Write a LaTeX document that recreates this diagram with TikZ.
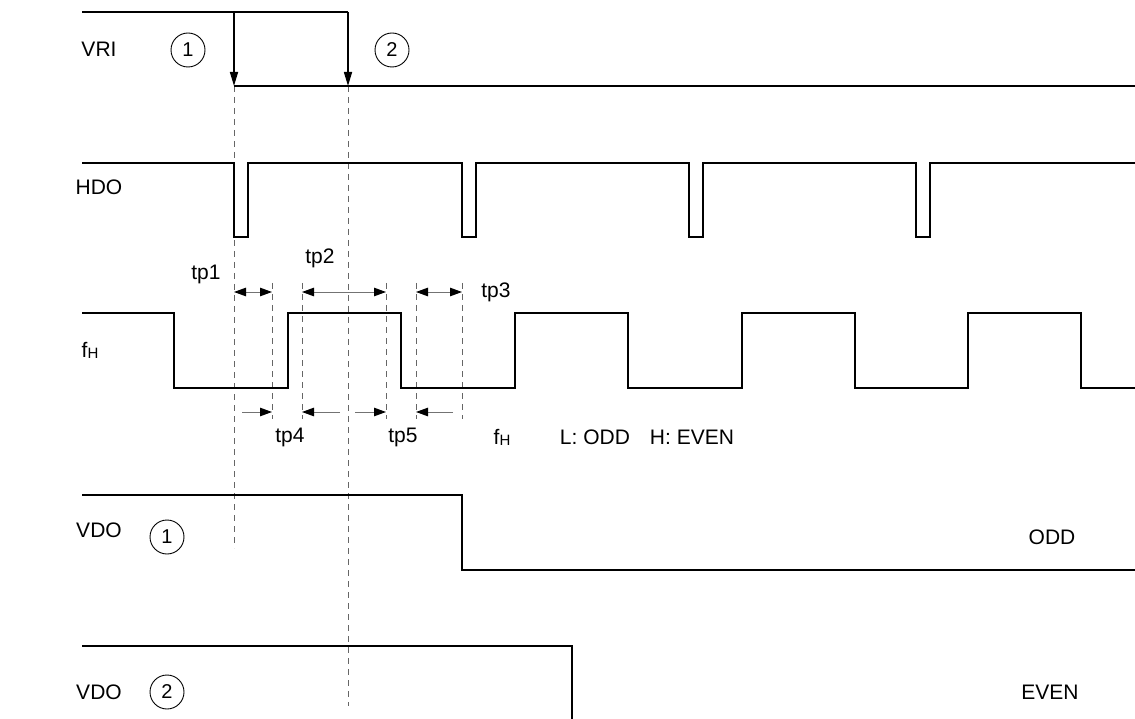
\documentclass[tikz,border=0pt]{standalone}
\usepackage{fontspec}
\setmainfont{Liberation Sans}
\usetikzlibrary{arrows.meta}
\newcommand{\fHtxt}{f{\fontsize{15}{15}\selectfont\raisebox{-1pt}{H}}}
\begin{document}
\begin{tikzpicture}[x=1pt,y=-1pt,
  sig/.style={line width=1.6pt, line join=miter},
  guide/.style={black!60, line width=0.8pt, dash pattern=on 6pt off 5pt},
  dimline/.style={black!55, line width=0.9pt},
  lbl/.style={font=\fontsize{21}{25}\selectfont, inner sep=0pt},
  num/.style={circle, draw, line width=0.9pt, minimum size=34pt, inner sep=0pt, font=\fontsize{20}{22}\selectfont},
  tipA/.style={-{Triangle[length=14pt,width=8pt]}},
  tipB/.style={{Triangle[length=12pt,width=8.5pt,color=black]}-{Triangle[length=12pt,width=8.5pt,color=black]}},
  tipC/.style={-{Triangle[length=12pt,width=8.5pt,color=black]}}
]
\useasboundingbox (0,0) rectangle (1135,719);

% left labels
\node[lbl] (lVRI) at (99,49) {VRI};
\node[lbl] (lHDO) at (99,187) {HDO};
\node[lbl] (lfH) at (90,350) {\fHtxt};
\node[lbl] (lVDO1) at (99,530) {VDO};
\node[lbl] (lVDO2) at (99,692) {VDO};

% circles
\node[num] (ca) at (188,50) {1};
\node[num] (cb) at (392,50) {2};
\node[num] (cc) at (167,537) {1};
\node[num] (cd) at (167,692) {2};

% guides
\coordinate (g1t) at (234,86);  \coordinate (g1b) at (234,548);
\coordinate (g2t) at (348,86);  \coordinate (g2b) at (348,706);
\draw[guide] (g1t) -- (g1b);
\draw[guide] (g2t) -- (g2b);
\foreach \xx/\nm in {272/a,302/b,386/c,416/d,462/e}{
  \coordinate (s\nm t) at (\xx,283);
  \coordinate (s\nm b) at (\xx,419);
  \draw[guide] (s\nm t) -- (s\nm b);
}

% VRI
\draw[sig] (82,12) -- (348,12);
\draw[sig] (234,86) -- (1135,86);
\coordinate (a1t) at (234,12); \coordinate (a1b) at (234,86);
\coordinate (a2t) at (348,12); \coordinate (a2b) at (348,86);
\draw[sig,tipA] (a1t) -- (a1b);
\draw[sig,tipA] (a2t) -- (a2b);

% HDO
\draw[sig] (82,163)
  -- (234,163) -- (234,237) -- (248,237) -- (248,163)
  -- (462,163) -- (462,237) -- (476,237) -- (476,163)
  -- (689,163) -- (689,237) -- (703,237) -- (703,163)
  -- (916,163) -- (916,237) -- (930,237) -- (930,163)
  -- (1135,163);

% fH
\draw[sig] (82,313) -- (174,313) -- (174,388) -- (288,388) -- (288,313)
  -- (401,313) -- (401,388) -- (515,388) -- (515,313)
  -- (628,313) -- (628,388) -- (742,388) -- (742,313)
  -- (855,313) -- (855,388) -- (968,388) -- (968,313)
  -- (1081,313) -- (1081,388) -- (1135,388);

% VDO
\draw[sig] (82,495) -- (462,495) -- (462,570) -- (1135,570);
\draw[sig] (82,646) -- (572,646) -- (572,719);

% tp dimension arrows (top)
\coordinate (p1a) at (234,292); \coordinate (p1b) at (272,292);
\coordinate (p2a) at (302,292); \coordinate (p2b) at (386,292);
\coordinate (p3a) at (416,292); \coordinate (p3b) at (462,292);
\draw[dimline,tipB] (p1a) -- (p1b);
\draw[dimline,tipB] (p2a) -- (p2b);
\draw[dimline,tipB] (p3a) -- (p3b);

% tp dimension arrows (bottom)
\coordinate (q1a) at (242,412); \coordinate (q1b) at (272,412);
\coordinate (q2a) at (340,412); \coordinate (q2b) at (302,412);
\coordinate (q3a) at (355,412); \coordinate (q3b) at (386,412);
\coordinate (q4a) at (453,412); \coordinate (q4b) at (416,412);
\draw[dimline,tipC] (q1a) -- (q1b);
\draw[dimline,tipC] (q2a) -- (q2b);
\draw[dimline,tipC] (q3a) -- (q3b);
\draw[dimline,tipC] (q4a) -- (q4b);

% tp labels
\node[lbl] (tp1) at (206,274) {tp1};
\node[lbl] (tp2) at (320,258) {tp2};
\node[lbl] (tp3) at (496,292) {tp3};
\node[lbl] (tp4) at (290,437) {tp4};
\node[lbl] (tp5) at (403,437) {tp5};

% legend
\node[lbl] (lfh2) at (502,437) {\fHtxt};
\node[lbl] (leg) at (647,437) {L: ODD\hspace{20pt}H: EVEN};

% right labels
\node[lbl] (odd) at (1052,537) {ODD};
\node[lbl] (even) at (1050,692) {EVEN};
\end{tikzpicture}
\end{document}
